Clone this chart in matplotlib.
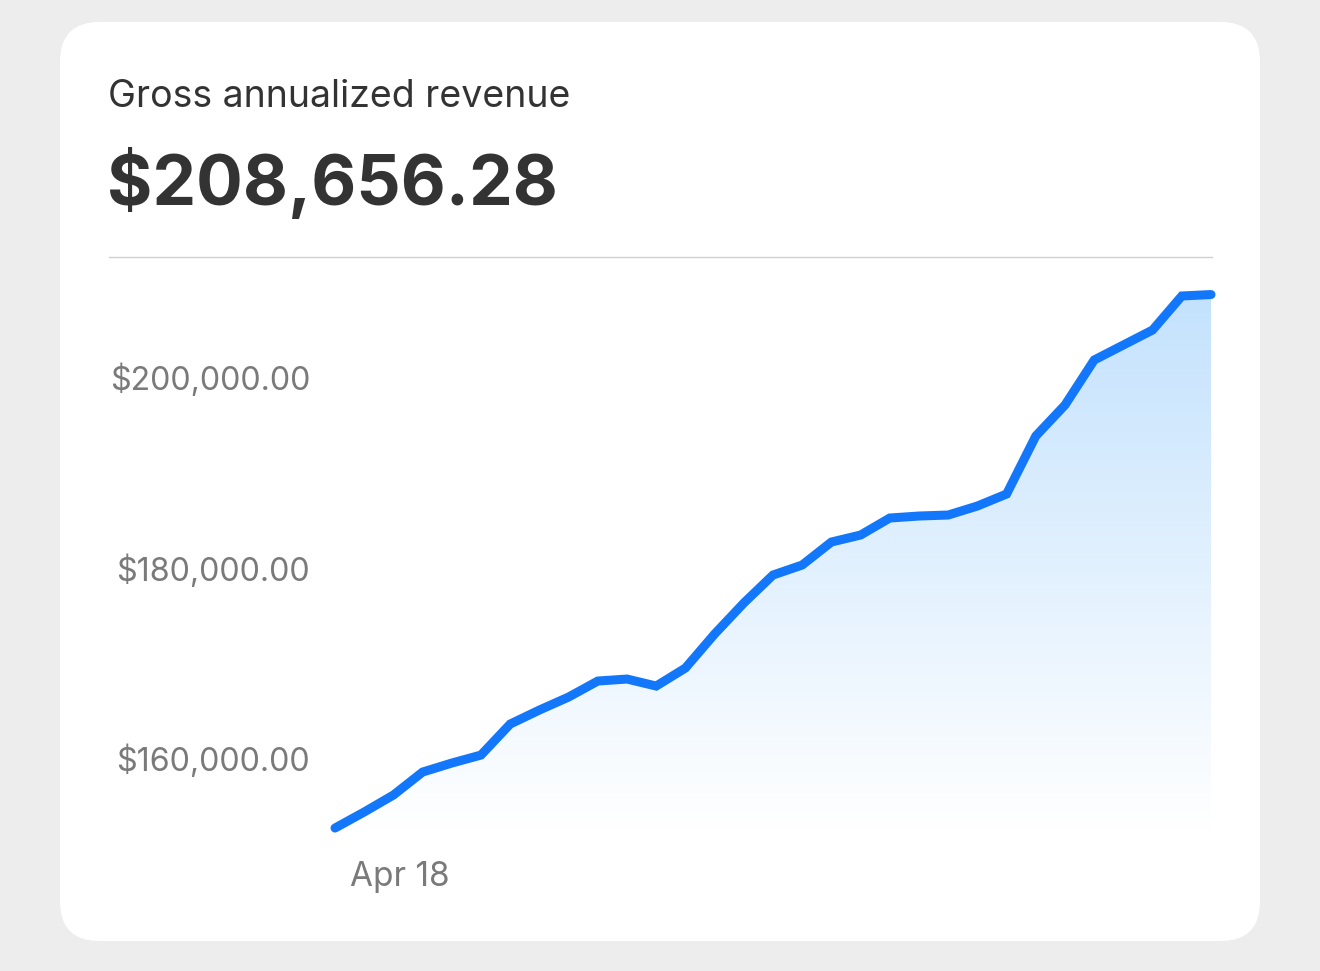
import matplotlib
matplotlib.use("Agg")
import matplotlib.pyplot as plt
import matplotlib.transforms as mtransforms
import numpy as np
from matplotlib.patches import FancyBboxPatch
from matplotlib.colors import LinearSegmentedColormap

# daily gross annualized revenue, starting Apr 16
revenue = [152645, 154330, 156110, 158525, 159470, 160310, 163565, 165035,
           166400, 168080, 168290, 167555, 169445, 173015, 176270, 179210,
           180260, 182675, 183410, 185195, 185405, 185510, 186455, 187715,
           193805, 197060, 201785, 203360, 204935, 208505, 208656.28]
x_ticks = [2]
x_labels = ["Apr 18"]
y_ticks = [160000, 180000, 200000]
y_labels = ["$160,000.00", "$180,000.00", "$200,000.00"]
title = "Gross annualized revenue"
headline = "$208,656.28"

W, H = 1320, 971
BLUE = "#1277fb"
plt.rcParams["font.family"] = ["Inter", "DejaVu Sans"]

fig = plt.figure(figsize=(W / 100, H / 100), dpi=100)
fig.patch.set_facecolor("#ededed")

def fx(px):
    return px / W

def fy(py):
    return 1 - py / H

# white card
card = FancyBboxPatch((fx(60), fy(941)), fx(1200), (941 - 22) / H,
                      boxstyle="round,pad=0,rounding_size=0.03",
                      transform=fig.transFigure, facecolor="white",
                      edgecolor="none", mutation_aspect=W / H, zorder=-10)
fig.patches.append(card)

fig.text(fx(108), fy(107), title, fontsize=27, color="#333333", va="baseline")
fig.text(fx(107), fy(205), headline, fontsize=50, fontweight="bold",
         color="#333333", va="baseline")
fig.add_artist(plt.Line2D([fx(109), fx(1212)], [fy(257), fy(257)],
                          transform=fig.transFigure, color="#d0d0d0", lw=1))

# axes: x 0..30 maps to px 335..1211
top_px, bot_px = 270, 840
px_per_val = 190.5 / 20000
ax = fig.add_axes([fx(335), fy(bot_px), fx(1211 - 335), (bot_px - top_px) / H])
ax.set_facecolor("none")
x = np.arange(len(revenue))
ax.set_xlim(0, len(revenue) - 1)
ymin = 200000 - (bot_px - 377) / px_per_val
ymax = 200000 + (377 - top_px) / px_per_val

poly = ax.fill_between(x, revenue, ymin, color="none", lw=0)
cmap = LinearSegmentedColormap.from_list("g", ["#ffffff", "#c4e2fd"])
fade_bottom = 200000 - (830 - 377) / px_per_val
grad = np.linspace(0, 1, 256).reshape(-1, 1)
img = ax.imshow(grad, cmap=cmap, aspect="auto", origin="lower",
                extent=[0, len(revenue) - 1, fade_bottom, max(revenue)],
                zorder=1)
img.set_clip_path(poly.get_paths()[0], transform=ax.transData)
ax.set_ylim(ymin, ymax)

ax.plot(x, revenue, color=BLUE, lw=6.5, solid_capstyle="round",
        solid_joinstyle="miter", clip_on=False, zorder=3)

ax.set_yticks(y_ticks, y_labels)
ax.set_xticks(x_ticks, x_labels)
ax.tick_params(length=0, labelsize=23.2, labelcolor="#7a7a7a")
ax.tick_params(axis="y", pad=18)
ax.tick_params(axis="x", pad=15, labelsize=24)
shift = mtransforms.ScaledTranslation(6 / 100, 0, fig.dpi_scale_trans)
for lab in ax.get_xticklabels():
    lab.set_transform(lab.get_transform() + shift)
for s in ax.spines.values():
    s.set_visible(False)

fig.savefig("out.png", dpi=100, facecolor=fig.get_facecolor())
